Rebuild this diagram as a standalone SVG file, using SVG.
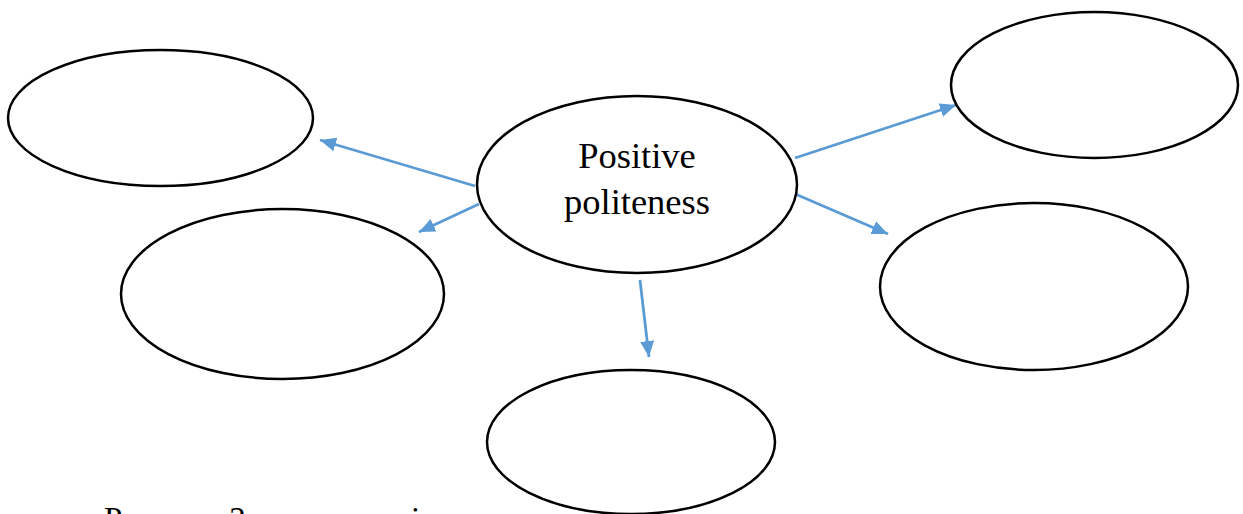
<svg xmlns="http://www.w3.org/2000/svg" width="1243" height="514" viewBox="0 0 1243 514">
<style>
.node{fill:#fff;stroke:#000;stroke-width:2.5}
.conn{stroke:#5B9BD5;stroke-width:2.8;fill:none}
.lbl{font-family:"Liberation Serif","Times New Roman",serif;font-size:36.5px;fill:#000}
.cap{font-family:"Liberation Serif","Times New Roman",serif;font-size:33px;fill:#000}
</style>
<defs>
<marker id="ah" markerUnits="userSpaceOnUse" markerWidth="18" markerHeight="16" refX="16" refY="7" orient="auto">
<path d="M0,0 L16,7 L0,14 z" fill="#5B9BD5"/>
</marker>
</defs>
<rect width="1243" height="514" fill="#fff"/>
<g id="connectors">
<line class="conn" x1="475" y1="186" x2="320" y2="140" marker-end="url(#ah)"/>
<line class="conn" x1="479" y1="204" x2="419" y2="232" marker-end="url(#ah)"/>
<line class="conn" x1="795" y1="158" x2="956" y2="105" marker-end="url(#ah)"/>
<line class="conn" x1="786" y1="190" x2="888" y2="234" marker-end="url(#ah)"/>
<line class="conn" x1="640" y1="280" x2="649" y2="357" marker-end="url(#ah)"/>
</g>
<g id="center">
<ellipse class="node" cx="637" cy="184.5" rx="160" ry="88.5"/>
<text class="lbl" x="637" y="168" text-anchor="middle">Positive</text>
<text class="lbl" x="637" y="214" text-anchor="middle">politeness</text>
</g>
<g id="top-left"><ellipse class="node" cx="160.5" cy="118" rx="152.5" ry="68"/></g>
<g id="mid-left"><ellipse class="node" cx="282.5" cy="294" rx="161.5" ry="85"/></g>
<g id="top-right"><ellipse class="node" cx="1094.5" cy="85" rx="143.5" ry="73"/></g>
<g id="right"><ellipse class="node" cx="1034" cy="286.5" rx="154" ry="83.5"/></g>
<g id="bottom"><ellipse class="node" cx="631" cy="442" rx="144" ry="72"/></g>
<g id="caption">
<text class="cap" x="104" y="530">Рисунок 2</text>
<text class="cap" x="411" y="530">і</text>
</g>
</svg>
